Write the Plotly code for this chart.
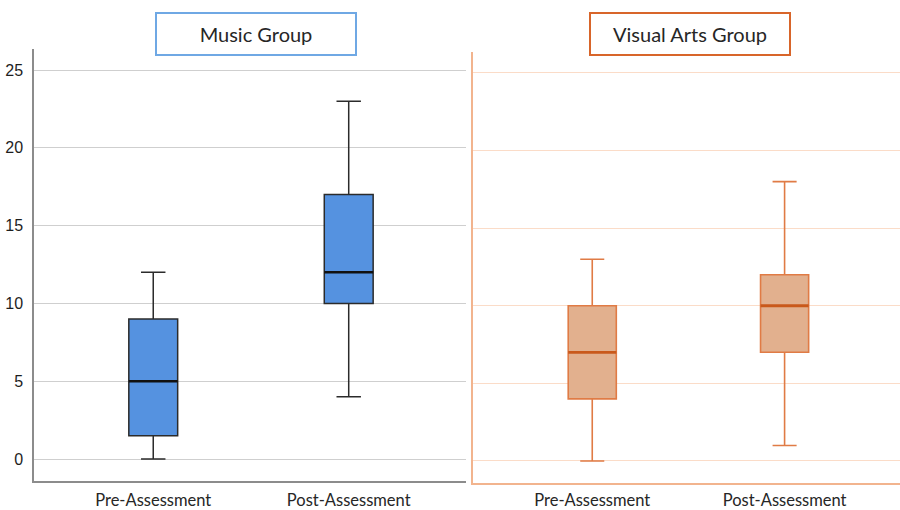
import plotly.graph_objects as go

# Assessment scores summarised as box statistics
categories = ["Pre-Assessment", "Post-Assessment"]

music_lower = [0, 4]
music_q1 = [1.5, 10]
music_median = [5, 12]
music_q3 = [9, 17]
music_upper = [12, 23]

visual_lower = [0, 1]
visual_q1 = [4, 7]
visual_median = [7, 10]
visual_q3 = [10, 12]
visual_upper = [13, 18]

y_ticks = [0, 5, 10, 15, 20, 25]

W, H = 900, 510
BOX_W = 0.25

fig = go.Figure()

fig.add_trace(go.Box(
    x=categories, q1=music_q1, median=music_median, q3=music_q3,
    lowerfence=music_lower, upperfence=music_upper,
    width=BOX_W, whiskerwidth=0.5,
    fillcolor="#5592e0", line=dict(color="#2b2b2b", width=1.5),
    boxpoints=False, xaxis="x", yaxis="y", showlegend=False,
))
fig.add_trace(go.Box(
    x=categories, q1=visual_q1, median=visual_median, q3=visual_q3,
    lowerfence=visual_lower, upperfence=visual_upper,
    width=BOX_W, whiskerwidth=0.5,
    fillcolor="#e2b08e", line=dict(color="#e07b45", width=1.6),
    boxpoints=False, xaxis="x2", yaxis="y2", showlegend=False,
))

# Heavier median strokes
shapes = []
for i, m in enumerate(music_median):
    shapes.append(dict(type="line", xref="x", yref="y",
                       x0=i - BOX_W / 2, x1=i + BOX_W / 2, y0=m, y1=m,
                       line=dict(color="#111111", width=2.6)))
for i, m in enumerate(visual_median):
    shapes.append(dict(type="line", xref="x2", yref="y2",
                       x0=i - BOX_W / 2, x1=i + BOX_W / 2, y0=m, y1=m,
                       line=dict(color="#c9591b", width=2.8)))

label_font = dict(family="Lato, Open Sans, sans-serif", size=16.5, color="#262626")
title_font = dict(family="Lato, Open Sans, sans-serif", size=20, color="#262626")

annotations = [
    dict(text="Music Group", x=256 / W, y=1 - 34 / H, xref="paper", yref="paper",
         xanchor="center", yanchor="middle",
         showarrow=False, width=198, height=40, borderpad=0, borderwidth=2,
         bordercolor="#6fa8e4", bgcolor="white", font=title_font),
    dict(text="Visual Arts Group", x=690 / W, y=1 - 34 / H, xref="paper", yref="paper",
         xanchor="center", yanchor="middle",
         showarrow=False, width=198, height=40, borderpad=0, borderwidth=2,
         bordercolor="#d8652a", bgcolor="white", font=title_font),
]

fig.update_layout(
    width=W, height=H,
    margin=dict(l=0, r=0, t=0, b=0),
    paper_bgcolor="white", plot_bgcolor="white",
    shapes=shapes, annotations=annotations,
    xaxis=dict(domain=[34 / W, 466 / W], type="category", range=[-0.61, 1.6],
               automargin=False,
               showline=True, linecolor="#8c8c8c", linewidth=1.5,
               showgrid=False, ticks="", tickfont=label_font, ticklabelstandoff=3),
    yaxis=dict(domain=[29 / H, 461 / H], range=[-1.41, 26.35], automargin=False,
               tickvals=y_ticks, showline=True, linecolor="#8c8c8c", linewidth=1.5,
               showgrid=True, gridcolor="#cfcfcf", gridwidth=1.2, zeroline=False,
               ticks="", ticklabelstandoff=6,
               tickfont=dict(family="Liberation Sans, Arial, sans-serif", size=16,
                             color="#1e1e1e")),
    xaxis2=dict(domain=[473 / W, 1.0], type="category", range=[-0.62, 1.6],
                anchor="y2", automargin=False,
                showline=True, linecolor="#f2b48e", linewidth=1.6,
                showgrid=False, ticks="", tickfont=label_font, ticklabelstandoff=1),
    yaxis2=dict(domain=[27 / H, 458 / H], range=[-1.42, 26.35], anchor="x2",
                automargin=False,
                tickvals=y_ticks, showticklabels=False,
                showline=True, linecolor="#f2b48e", linewidth=1.6,
                showgrid=True, gridcolor="#fbdcc8", gridwidth=1.2, zeroline=False,
                ticks=""),
)

fig.write_html("out.html")
